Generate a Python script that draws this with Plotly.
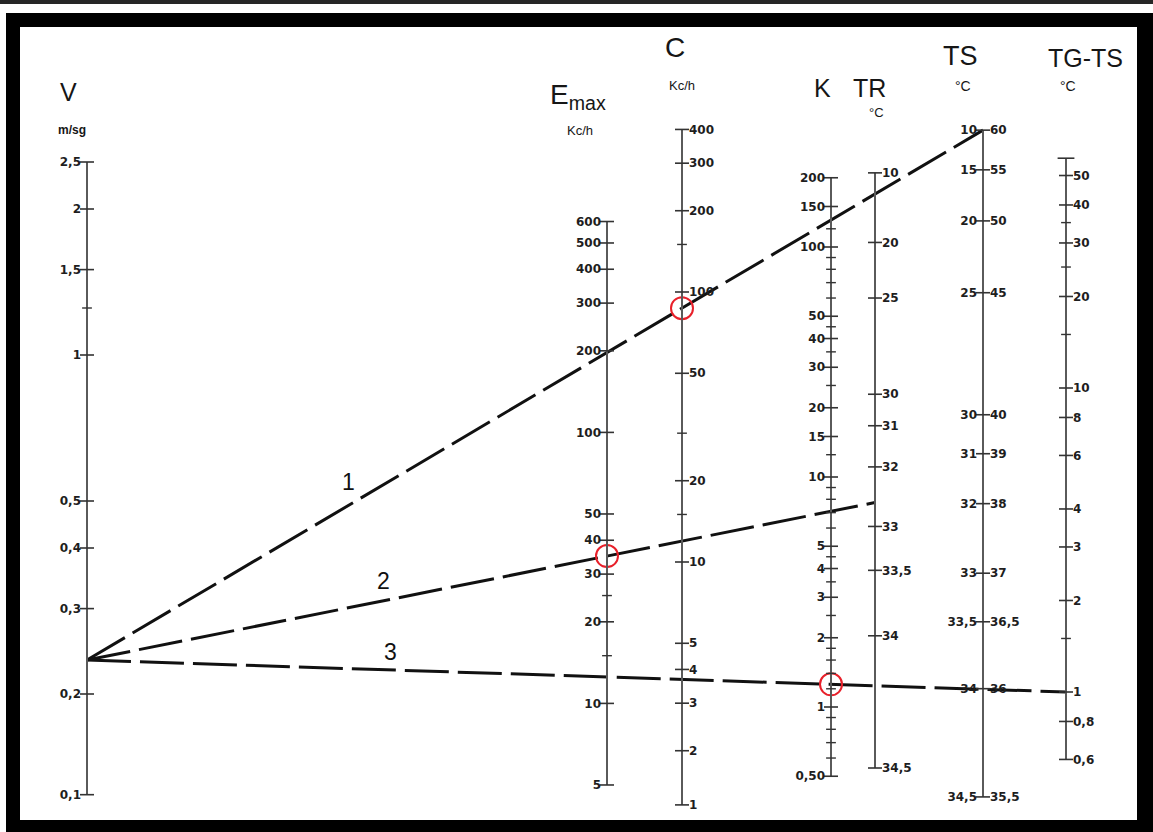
import numpy as np
import plotly.graph_objects as go

W, H = 1153, 832

# ---------------- data ----------------
V_ticks = [0.1, 0.2, 0.3, 0.4, 0.5, 1, 1.5, 2, 2.5]
V_labels = ["0,1", "0,2", "0,3", "0,4", "0,5", "1", "1,5", "2", "2,5"]
V_minor = [1.25]

EMAX_ticks = [5, 10, 20, 30, 40, 50, 100, 200, 300, 400, 500, 600]
EMAX_labels = ["5", "10", "20", "30", "40", "50", "100", "200", "300", "400", "500", "600"]
EMAX_minor = [15, 25]

C_ticks = [1, 2, 3, 4, 5, 10, 20, 50, 100, 200, 300, 400]
C_labels = ["1", "2", "3", "4", "5", "10", "20", "50", "100", "200", "300", "400"]
C_minor = [15, 30, 150]

K_ticks = [0.5, 1, 2, 3, 4, 5, 10, 15, 20, 30, 40, 50, 100, 150, 200]
K_labels = ["0,50", "1", "2", "3", "4", "5", "10", "15", "20", "30", "40", "50", "100", "150", "200"]
K_minor = [0.6, 0.7, 0.8, 0.9, 1.2, 1.4, 1.6, 1.8, 2.5, 3.5, 4.5, 6, 7, 8, 9, 12.5,
           25, 35, 45, 60, 70, 80, 90, 120]

TR_ticks = [10, 20, 25, 30, 31, 32, 33, 33.5, 34, 34.5]
TR_labels = ["10", "20", "25", "30", "31", "32", "33", "33,5", "34", "34,5"]

TS_ticks = [10, 15, 20, 25, 30, 31, 32, 33, 33.5, 34, 34.5]
TS_labels = ["10", "15", "20", "25", "30", "31", "32", "33", "33,5", "34", "34,5"]
TS_right_labels = ["60", "55", "50", "45", "40", "39", "38", "37", "36,5", "36", "35,5"]

TGTS_ticks = [0.6, 0.8, 1, 2, 3, 4, 6, 8, 10, 20, 30, 40, 50]
TGTS_labels = ["0,6", "0,8", "1", "2", "3", "4", "6", "8", "10", "20", "30", "40", "50"]
TGTS_minor = [1.5, 15, 25, 35]
TGTS_top = 57

# worked examples (lines 1, 2, 3)
V_point = 0.235
line1_TS_end = 10
line2_TR_end = 32.65
line3_TGTS_end = 1

# ---------------- scale geometry (layout) ----------------
# pixel = A - B*log10(u(value)); "foot" = where the printed scale is cut off
def ident(foot=None):
    return lambda v: np.maximum(np.asarray(v, float), foot) if foot else np.asarray(v, float)

SCALES = {
    "V":    dict(x=87,   A=355.0, B=485.0, u=ident(0.124),                          side="left"),
    "EMAX": dict(x=607,  A=974.4, B=271.0, u=ident(),                               side="left"),
    "C":    dict(x=682,  A=832.0, B=270.0, u=ident(1.26),                           side="right"),
    "K":    dict(x=831,  A=707.0, B=230.0, u=ident(),                               side="left"),
    "TR":   dict(x=875,  A=605.7, B=310.4, u=lambda v: 34.8 - np.asarray(v, float), side="right"),
    "TS":   dict(x=983,  A=705.7, B=411.2, u=lambda v: 35.1 - np.asarray(v, float), side="left"),
    "TGTS": dict(x=1066, A=692.0, B=304.0, u=ident(),                               side="right"),
}

def pix(name, v):
    s = SCALES[name]
    return s["A"] - s["B"] * np.log10(s["u"](v))

AXIS_COL = "#5a5a5a"
TICK_COL = "#333333"
TXT_COL = "#1e1e1e"
FONT = "DejaVu Sans"
TICKFONT = dict(family=FONT, size=12, color=TXT_COL, weight="bold")

fig = go.Figure()
layout_axes = {}

scale_defs = [
    ("V", V_ticks, V_labels, V_minor, (min(V_ticks), max(V_ticks))),
    ("EMAX", EMAX_ticks, EMAX_labels, EMAX_minor, (min(EMAX_ticks), max(EMAX_ticks))),
    ("C", C_ticks, C_labels, C_minor, (min(C_ticks), max(C_ticks))),
    ("K", K_ticks, K_labels, K_minor, (min(K_ticks), max(K_ticks))),
    ("TR", TR_ticks, TR_labels, [], (min(TR_ticks), max(TR_ticks))),
    ("TS", TS_ticks, TS_labels, [], (min(TS_ticks), max(TS_ticks))),
    ("TGTS", TGTS_ticks, TGTS_labels, TGTS_minor, (min(TGTS_ticks), TGTS_top)),
]

def axis_dict(s, ticks, labels, side):
    return dict(
        type="log", overlaying="y", anchor="free", position=s["x"] / W,
        range=[(s["A"] - H) / s["B"], s["A"] / s["B"]], autorange=False,
        side=side, showgrid=False, zeroline=False, showline=False, ticks="",
        tickmode="array", tickvals=list(s["u"](ticks)), ticktext=labels,
        ticklabelstandoff=6, tickfont=TICKFONT, fixedrange=True,
    )

n = 2
for name, ticks, labels, minor, ext in scale_defs:
    s = SCALES[name]
    yid = "y%d" % n
    layout_axes["yaxis%d" % n] = axis_dict(s, ticks, labels, s["side"])
    # scale line
    fig.add_trace(go.Scatter(x=[s["x"], s["x"]], y=list(s["u"](list(ext))), yaxis=yid,
                             mode="lines", line=dict(color=AXIS_COL, width=2),
                             hoverinfo="skip", showlegend=False))
    # major ticks / end caps
    fig.add_trace(go.Scatter(x=[s["x"]] * len(ticks), y=list(s["u"](ticks)), yaxis=yid,
                             mode="markers", hoverinfo="skip", showlegend=False,
                             marker=dict(symbol="line-ew", size=10, color=TICK_COL,
                                         line=dict(width=1.6, color=TICK_COL))))
    if minor:
        fig.add_trace(go.Scatter(x=[s["x"]] * len(minor), y=list(s["u"](minor)), yaxis=yid,
                                 mode="markers", hoverinfo="skip", showlegend=False,
                                 marker=dict(symbol="line-ew", size=7, color=TICK_COL,
                                             line=dict(width=1.4, color=TICK_COL))))
    if name == "TGTS":
        fig.add_trace(go.Scatter(x=[s["x"]], y=list(s["u"]([TGTS_top])), yaxis=yid,
                                 mode="markers", hoverinfo="skip", showlegend=False,
                                 marker=dict(symbol="line-ew", size=12, color=TICK_COL,
                                             line=dict(width=1.6, color=TICK_COL))))
    n += 1

# right-hand labels of the TS scale
s = SCALES["TS"]
layout_axes["yaxis%d" % n] = axis_dict(s, TS_ticks, TS_right_labels, "right")
fig.add_trace(go.Scatter(x=[s["x"]], y=list(s["u"]([TS_ticks[0]])), yaxis="y%d" % n,
                         mode="markers", marker=dict(size=1, opacity=0),
                         hoverinfo="skip", showlegend=False))

# ---------------- example lines ----------------
x0, y0 = SCALES["V"]["x"], float(pix("V", V_point))
lines = [
    ("1", "TS", line1_TS_end, "C", 348, 24),
    ("2", "TR", line2_TR_end, "EMAX", 383, 20),
    ("3", "TGTS", line3_TGTS_end, "K", 390, 18),
]
for lab, end_scale, end_val, circ_scale, lab_x, lab_dy in lines:
    x1, y1 = SCALES[end_scale]["x"], float(pix(end_scale, end_val))
    fig.add_trace(go.Scatter(x=[x0, x1], y=[y0, y1], mode="lines",
                             line=dict(color="#111111", width=3, dash="44px,9px"),
                             hoverinfo="skip", showlegend=False))
    xc = SCALES[circ_scale]["x"]
    yc = y0 + (y1 - y0) * (xc - x0) / (x1 - x0)
    fig.add_trace(go.Scatter(x=[xc], y=[yc], mode="markers", hoverinfo="skip", showlegend=False,
                             marker=dict(symbol="circle-open", size=22, color="#e8202a",
                                         line=dict(width=2, color="#e8202a"))))
    yl = y0 + (y1 - y0) * (lab_x - x0) / (x1 - x0) - lab_dy
    fig.add_annotation(x=lab_x, y=yl, text=lab, showarrow=False,
                       font=dict(family="Liberation Sans", size=23, color="#111"))

# ---------------- headers ----------------
headers = [
    ("V", 68, 92, 25, "normal"), ("m/sg", 72, 130, 12, "bold"),
    ("E<sub>max</sub>", 578, 96, 28, "normal"), ("Kc/h", 580, 130, 13, "normal"),
    ("C", 675, 47, 28, "normal"), ("Kc/h", 682, 85, 13, "normal"),
    ("K", 822, 88, 25, "normal"), ("TR", 869, 88, 25, "normal"), ("°C", 876, 112, 13, "normal"),
    ("TS", 960, 56, 27, "normal"), ("°C", 963, 86, 14, "normal"),
    ("TG-TS", 1085, 58, 25, "normal"), ("°C", 1068, 86, 14, "normal"),
]
for t, hx, hy, fs, wt in headers:
    fig.add_annotation(x=hx, y=hy, text=t, showarrow=False,
                       font=dict(family="Liberation Sans", size=fs, color="#161616", weight=wt))

# ---------------- frame ----------------
frame = [
    dict(x0=0, x1=W, y0=0, y1=4, color="#262626"),
    dict(x0=6, x1=W, y0=13, y1=27, color="#000"),
    dict(x0=6, x1=W, y0=820, y1=H, color="#000"),
    dict(x0=6, x1=20, y0=13, y1=H, color="#000"),
    dict(x0=1137, x1=W, y0=13, y1=H, color="#000"),
]
for f in frame:
    fig.add_shape(type="rect", xref="x", yref="y", x0=f["x0"], x1=f["x1"], y0=f["y0"], y1=f["y1"],
                  fillcolor=f["color"], line=dict(width=0), layer="above")

fig.update_layout(
    width=W, height=H, autosize=False,
    margin=dict(l=0, r=0, t=0, b=0),
    paper_bgcolor="white", plot_bgcolor="white",
    xaxis=dict(range=[0, W], visible=False, domain=[0, 1], fixedrange=True),
    yaxis=dict(range=[H, 0], visible=False, domain=[0, 1], fixedrange=True),
    showlegend=False,
    **layout_axes,
)

fig.write_html("out.html", config={"displayModeBar": False},
               post_script="document.body.style.margin='0';document.body.style.padding='0';")
